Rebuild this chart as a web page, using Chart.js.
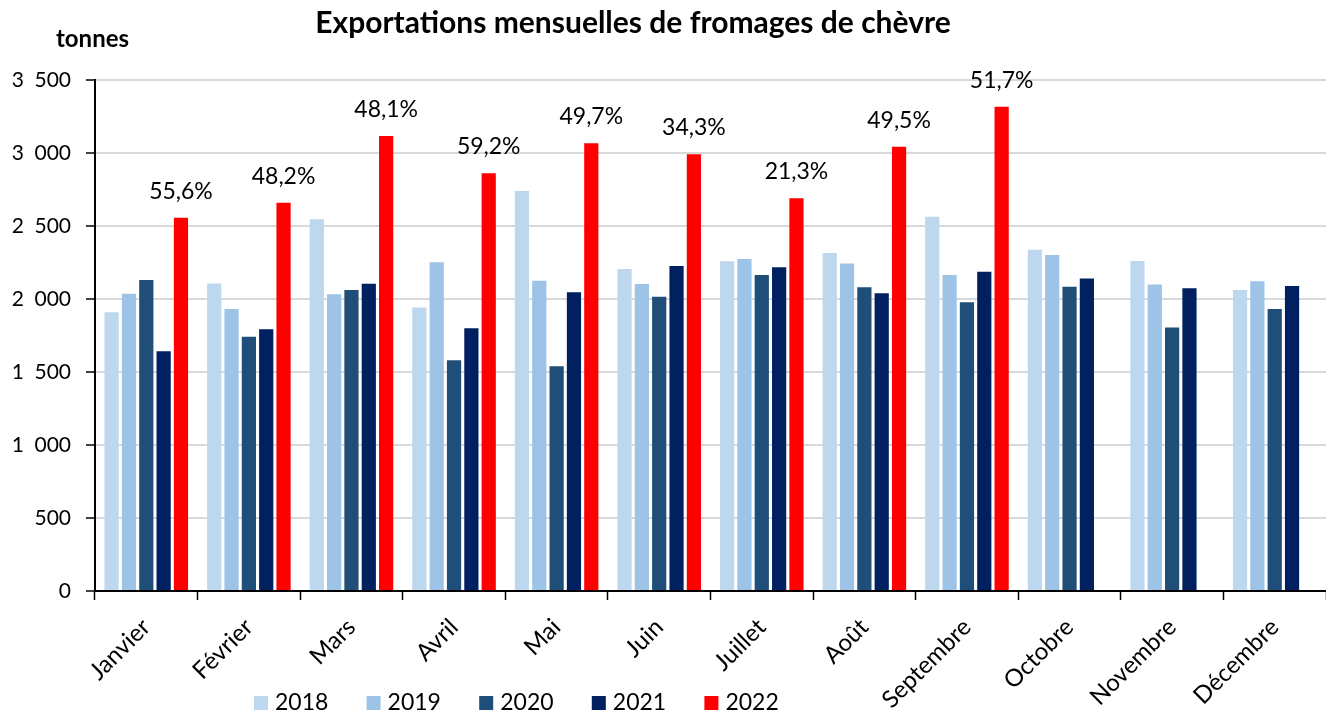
<!DOCTYPE html>
<html>
<head>
<meta charset="utf-8">
<script src="https://cdn.jsdelivr.net/npm/chart.js@4.4.1/dist/chart.umd.min.js"></script>
<style>
html,body{margin:0;padding:0;background:#fff;}
#wrap{position:relative;width:1326px;height:712px;}
canvas{display:block;}
</style>
</head>
<body>
<div id="wrap"><canvas id="c" width="1326" height="712"></canvas></div>
<script>
const chartTitle = 'Exportations mensuelles de fromages de chèvre';
const unitLabel = 'tonnes';
const months = ['Janvier','Février','Mars','Avril','Mai','Juin','Juillet','Août','Septembre','Octobre','Novembre','Décembre'];
const years = ['2018','2019','2020','2021','2022'];
const v2018 = [1909, 2107, 2546, 1941, 2740, 2205, 2258, 2315, 2564, 2338, 2260, 2062];
const v2019 = [2036, 1931, 2032, 2251, 2125, 2103, 2274, 2244, 2164, 2301, 2100, 2121];
const v2020 = [2130, 1742, 2062, 1580, 1539, 2016, 2164, 2080, 1977, 2084, 1804, 1931];
const v2021 = [1642, 1792, 2105, 1799, 2046, 2226, 2217, 2039, 2187, 2141, 2073, 2089];
const v2022 = [2557, 2660, 3116, 2861, 3066, 2991, 2690, 3043, 3317, null, null, null];
const growth2022 = ['55,6%','48,2%','48,1%','59,2%','49,7%','34,3%','21,3%','49,5%','51,7%', null, null, null];
const yTicks = [0, 500, 1000, 1500, 2000, 2500, 3000, 3500];

const colors = ['#BDD7EE', '#9DC3E6', '#1F4E79', '#002060', '#FF0000'];
const seriesValues = [v2018, v2019, v2020, v2021, v2022];
const FONT = 'Lato, "Open Sans", sans-serif';

function fmt(n){
  const s = String(n);
  return s.length > 3 ? s.slice(0, s.length-3) + '\u2002' + s.slice(-3) : s;
}

const overlay = {
  id: 'overlay',
  afterDatasetsDraw(chart){
    const ctx = chart.ctx;
    const meta = chart.getDatasetMeta(4);
    ctx.save();
    ctx.font = '23px ' + FONT;
    ctx.fillStyle = '#000';
    ctx.textAlign = 'center';
    ctx.textBaseline = 'alphabetic';
    meta.data.forEach((el, i) => {
      if (growth2022[i] && v2022[i] != null) {
        ctx.fillText(growth2022[i], el.x, el.y - 19);
      }
    });
    ctx.restore();
  },
  afterDraw(chart){
    const ctx = chart.ctx;
    ctx.save();
    ctx.fillStyle = '#000';
    ctx.font = 'bold 30px ' + FONT;
    ctx.textAlign = 'center';
    ctx.textBaseline = 'alphabetic';
    ctx.fillText(chartTitle, 633, 33);
    ctx.font = 'bold 24px ' + FONT;
    ctx.textAlign = 'left';
    ctx.fillText(unitLabel, 56, 47);
    ctx.font = '23px ' + FONT;
    ctx.textBaseline = 'middle';
    years.forEach((y, i) => {
      const x0 = 254 + i * 112.6;
      ctx.fillStyle = colors[i];
      ctx.fillRect(x0, 696, 14, 14);
      ctx.fillStyle = '#000';
      ctx.fillText(y, x0 + 21, 703);
    });
    ctx.restore();
  }
};

const ctx = document.getElementById('c').getContext('2d');
new Chart(ctx, {
  type: 'bar',
  data: {
    labels: months,
    datasets: years.map((y, i) => ({
      label: y,
      data: seriesValues[i],
      backgroundColor: colors[i],
      borderWidth: 0,
      categoryPercentage: 0.845,
      barPercentage: 0.82
    }))
  },
  options: {
    responsive: false,
    animation: false,
    layout: { padding: { top: 80, left: 0, right: 0, bottom: 0 } },
    plugins: {
      legend: { display: false },
      title: { display: false },
      tooltip: { enabled: false }
    },
    scales: {
      x: {
        offset: true,
        grid: {
          display: true,
          offset: true,
          drawOnChartArea: false,
          drawTicks: true,
          tickLength: 9,
          tickColor: '#000',
          tickWidth: 1.5
        },
        border: { display: true, color: '#000', width: 2 },
        ticks: {
          autoSkip: false,
          minRotation: 45,
          maxRotation: 45,
          padding: 13,
          color: '#000',
          font: { family: FONT, size: 24 }
        },
        afterFit(scale){ scale.height = 121; }
      },
      y: {
        min: 0,
        max: 3500,
        afterBuildTicks(scale){ scale.ticks = yTicks.map(v => ({ value: v })); },
        grid: {
          color: '#D9D9D9',
          lineWidth: 2,
          drawTicks: true,
          tickLength: 9,
          tickColor: '#000',
          tickWidth: 1.5
        },
        border: { display: true, color: '#000', width: 2 },
        ticks: {
          padding: 15,
          color: '#000',
          font: { family: FONT, size: 21 },
          callback: (v) => fmt(v)
        },
        afterFit(scale){ scale.width = 95; }
      }
    }
  },
  plugins: [overlay]
});
</script>
</body>
</html>
